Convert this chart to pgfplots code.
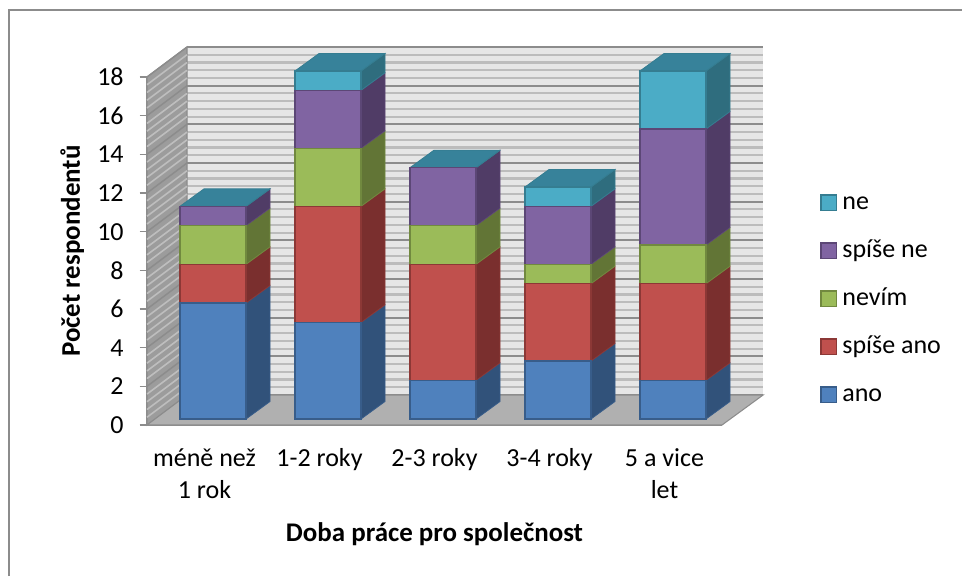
\documentclass[border=0pt]{standalone}
\usepackage{pgfplots}
\usepackage{fontspec}
\setmainfont{Carlito}
\pgfplotsset{compat=1.18}

\definecolor{anoF}{HTML}{4F81BD}\definecolor{anoE}{HTML}{385D8A}\definecolor{anoS}{HTML}{31527A}
\definecolor{saF}{HTML}{C0504D}\definecolor{saE}{HTML}{8C3836}\definecolor{saS}{HTML}{7A2F2E}
\definecolor{neF}{HTML}{9BBB59}\definecolor{neE}{HTML}{71893F}\definecolor{neS}{HTML}{627536}
\definecolor{snF}{HTML}{8064A2}\definecolor{snE}{HTML}{5C4776}\definecolor{snS}{HTML}{503C66}
\definecolor{nF}{HTML}{4BACC6}\definecolor{nE}{HTML}{357D91}\definecolor{nS}{HTML}{2F6D7E}\definecolor{nT}{HTML}{37829A}
\definecolor{axisgray}{HTML}{8C8C8C}
\definecolor{wallgray}{HTML}{E6E6E6}
\definecolor{minorgray}{HTML}{BCBCBC}
\definecolor{floorgray}{HTML}{B0B0B0}
\definecolor{sidewall}{HTML}{9C9C9C}
\definecolor{sideminor}{HTML}{BEBEBE}

\newcommand{\txt}{\fontsize{19.5}{24}\selectfont}
\newcommand{\lbl}{\fontsize{20.2}{24}\selectfont}

% one parallelogram on the right side of a stacked segment
\newcommand{\sideface}[4]{%
  \pgfmathsetmacro\xf{#1+0.287}%
  \pgfmathsetmacro\xb{#1+0.287+0.2087}%
  \pgfmathsetmacro\yl{#2+0.905}%
  \pgfmathsetmacro\yh{#3+0.905}%
  \addplot[fill=#4S,draw=#4E,line width=0.6pt,forget plot] coordinates {(\xf,#2) (\xb,\yl) (\xb,\yh) (\xf,#3)} --cycle;
}
% side faces and the lid of one column: category, then the five values
\newcommand{\columnsides}[6]{%
  \pgfmathsetmacro\sa{#2}\pgfmathsetmacro\sb{\sa+#3}\pgfmathsetmacro\sc{\sb+#4}%
  \pgfmathsetmacro\sd{\sc+#5}\pgfmathsetmacro\se{\sd+#6}%
  \sideface{#1}{0}{\sa}{ano}\sideface{#1}{\sa}{\sb}{sa}\sideface{#1}{\sb}{\sc}{ne}%
  \sideface{#1}{\sc}{\sd}{sn}\sideface{#1}{\sd}{\se}{n}%
  \pgfmathsetmacro\xl{#1-0.287}\pgfmathsetmacro\xr{#1+0.287}%
  \pgfmathsetmacro\xm{#1-0.287+0.2087}\pgfmathsetmacro\xn{#1+0.287+0.2087}%
  \pgfmathsetmacro\yt{\se+0.905}%
  \addplot[fill=nT,draw=nE,line width=0.6pt,forget plot] coordinates {(\xl,\se) (\xm,\yt) (\xn,\yt) (\xr,\se)} --cycle;
}

\begin{document}
\begin{tikzpicture}
\useasboundingbox (0,0) rectangle (721.5pt,432pt);
\fill[white] (0,0) rectangle (721.5pt,432pt);
% chart frame: only its top and left edges fall inside the page
\draw[color=axisgray,line width=1.7pt] (6.6pt,0pt) -- (6.6pt,424.5pt) -- (721.5pt,424.5pt);

% back wall with its grid
\begin{axis}[
  at={(140.25pt,135.75pt)},anchor=south west,
  scale only axis,width=432pt,height=261pt,
  xmin=0,xmax=1,ymin=0,ymax=18,
  axis line style={draw=none},
  axis background/.style={fill=wallgray},
  xtick=\empty,ytick distance=2,minor y tick num=4,
  yticklabels={},
  tick style={draw=none},
  ymajorgrids,yminorgrids,
  major grid style={color=axisgray,line width=1.3pt},
  minor grid style={color=minorgray,line width=1.6pt},
]
\addplot[draw=none,forget plot] coordinates {(0,0) (1,18)};
\end{axis}

% left wall, floor and the visible axes
\begin{axis}[
  at={(110.25pt,113.25pt)},anchor=south west,
  scale only axis,width=431.25pt,height=261pt,
  xmin=-0.5,xmax=4.5,ymin=0,ymax=18,clip=false,
  axis x line*=bottom,axis y line*=left,
  axis line style={color=axisgray,line width=1.5pt,-},
  xtick={0,1,2,3,4},
  xticklabels={{méně než\\1 rok},{1-2 roky},{2-3 roky},{3-4 roky},{5 a vice\\let}},
  ytick={0,2,...,18},
  /pgf/number format/assume math mode=true,
  tick align=outside,major tick length=5.5pt,
  x tick style={draw=none},
  y tick style={color=axisgray,line width=1.2pt},
  xticklabel style={font=\txt,align=center,anchor=north,yshift=-8.5pt},
  yticklabel style={font=\txt,xshift=-8.5pt},
  xlabel={\textbf{Doba práce pro společnost}},
  ylabel={\textbf{Počet respondentů}},
  xlabel style={font=\lbl,at={(axis description cs:0.5,-0.334)},anchor=base},
  ylabel style={font=\lbl,at={(axis description cs:-0.13,0.5)},anchor=center},
]
\addplot[fill=sidewall,draw=axisgray,line width=0.8pt,forget plot] coordinates {(-0.5,0) (-0.152,1.552) (-0.152,19.552) (-0.5,18)} --cycle;
\pgfplotsinvokeforeach{0.4,0.8,1.2,1.6,2.4,2.8,3.2,3.6,4.4,4.8,5.2,5.6,6.4,6.8,7.2,7.6,8.4,8.8,9.2,9.6,10.4,10.8,11.2,11.6,12.4,12.8,13.2,13.6,14.4,14.8,15.2,15.6,16.4,16.8,17.2,17.6}{
  \draw[color=sideminor,line width=1.2pt] (axis cs:-0.5,#1) -- (axis cs:-0.152,{#1+1.552});
}
\pgfplotsinvokeforeach{2,4,6,8,10,12,14,16,18}{
  \draw[color=axisgray,line width=1.1pt] (axis cs:-0.5,#1) -- (axis cs:-0.152,{#1+1.552});
}
\addplot[fill=floorgray,draw=axisgray,line width=0.8pt,forget plot] coordinates {(-0.5,0) (-0.152,1.552) (4.857,1.552) (4.5,0)} --cycle;
\end{axis}

% side faces and lids of the columns
\begin{axis}[
  at={(116.625pt,117.75pt)},anchor=south west,
  scale only axis,width=431.25pt,height=261pt,
  xmin=-0.5,xmax=4.5,ymin=0,ymax=18,clip=false,hide axis,
]
\columnsides{0}{6}{2}{2}{1}{0}
\columnsides{1}{5}{6}{3}{3}{1}
\columnsides{2}{2}{6}{2}{3}{0}
\columnsides{3}{3}{4}{1}{3}{1}
\columnsides{4}{2}{5}{2}{6}{3}
\end{axis}

% front faces of the stacked columns and the legend
\begin{axis}[
  at={(116.625pt,117.75pt)},anchor=south west,
  scale only axis,width=431.25pt,height=261pt,
  xmin=-0.5,xmax=4.5,ymin=0,ymax=18,clip=false,hide axis,
  ybar stacked,bar width=49.5pt,
  reverse legend,
  legend cell align=left,
  legend style={at={(1.1557,0.650)},anchor=north west,draw=none,fill=none,
    font=\txt,inner sep=0pt,row sep=21pt,
    nodes={inner sep=0pt,text height=12pt,text depth=3pt}},
  legend image code/.code={\draw[#1,line width=1.1pt] (0pt,-5.5pt) rectangle (11.5pt,6pt);\path[draw=none,fill=none] (16pt,0pt) circle (0pt);},
]
\addplot[fill=anoF,draw=anoE,line width=1.1pt] coordinates {(0,6) (1,5) (2,2) (3,3) (4,2)};
\addplot[fill=saF,draw=saE,line width=1.1pt] coordinates {(0,2) (1,6) (2,6) (3,4) (4,5)};
\addplot[fill=neF,draw=neE,line width=1.1pt] coordinates {(0,2) (1,3) (2,2) (3,1) (4,2)};
\addplot[fill=snF,draw=snE,line width=1.1pt] coordinates {(0,1) (1,3) (2,3) (3,3) (4,6)};
\addplot[fill=nF,draw=nE,line width=1.1pt] coordinates {(0,0) (1,1) (2,0) (3,1) (4,3)};
\legend{ano,spíše ano,nevím,spíše ne,ne}
\end{axis}
\end{tikzpicture}
\end{document}
